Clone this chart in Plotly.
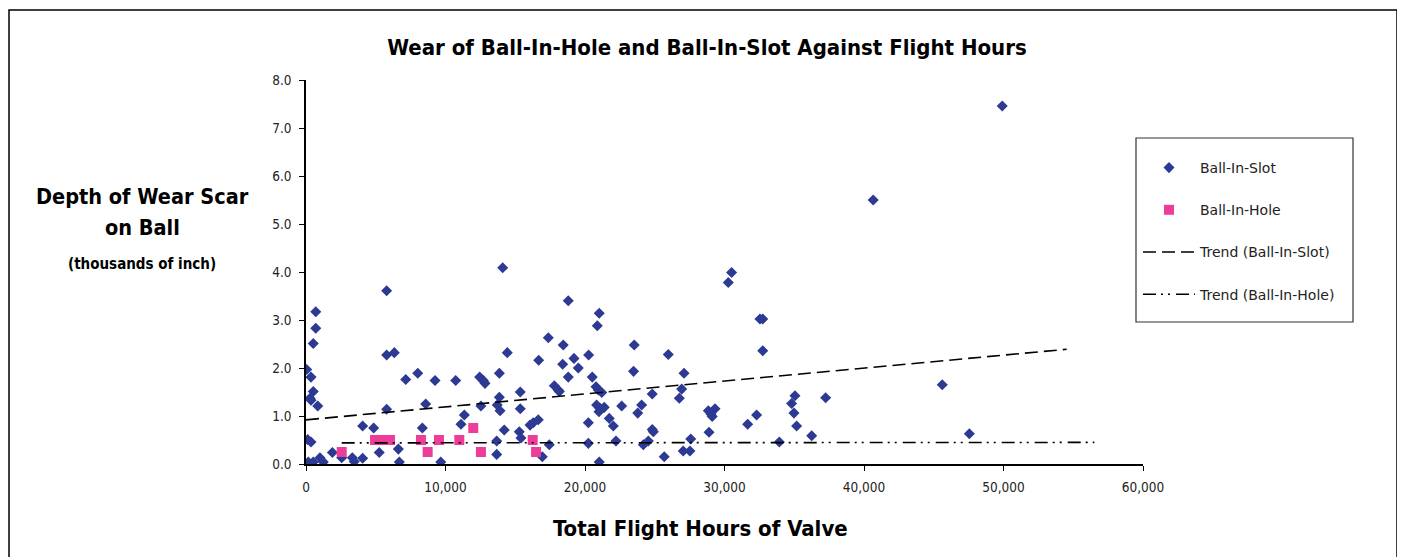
import plotly.graph_objects as go

# ---------------- data ----------------
slot_hours = [50, 360, 520, 290, 360, 840, 700, 700, 520, 5780, 5780, 6330, 7150, 8010, 9250,
              10730, 5780, 8580, 120, 360, 4060, 4850, 8340, 11110, 11350, 1890, 1000, 1240,
              160, 520, 2560, 3320, 3460, 4060, 5250, 6620, 6690, 9660,
              18800, 21020, 20880, 17370, 18440, 23530, 14430, 16680, 18400, 19210, 20260,
              19520, 23480, 12450, 12710, 12830, 13860, 18800, 20520, 17800, 18080, 18160,
              20790, 20950, 21200, 15360, 13860, 12540, 13710, 13910, 15360, 20830, 21070,
              21380, 21000, 22630, 24060, 23780, 21740, 22030, 16060, 16290, 16650, 14210,
              15290, 15410, 20240, 13670, 17440, 20240, 22220, 13670, 16940, 21020, 14100,
              32540, 32740, 32740, 25970, 27100, 26930, 26760, 24820, 28840, 29320, 29120,
              29030, 28890, 32300, 31660, 34810, 35050, 34980, 35170, 36250, 24820, 24900,
              24540, 24180, 25680, 27040, 27520, 27580, 33930, 37250, 45610, 47550, 40660,
              49910, 30510, 30270]
slot_depth = [1.97, 1.81, 1.51, 1.37, 1.33, 1.21, 3.17, 2.83, 2.51, 3.61, 2.27, 2.32, 1.76, 1.89, 1.74,
              1.74, 1.14, 1.25, 0.51, 0.46, 0.79, 0.75, 0.75, 0.83, 1.02, 0.24, 0.13, 0.04,
              0.04, 0.04, 0.13, 0.13, 0.05, 0.12, 0.24, 0.31, 0.04, 0.04,
              3.40, 3.14, 2.88, 2.63, 2.48, 2.48, 2.32, 2.16, 2.08, 2.20, 2.27,
              2.00, 1.93, 1.81, 1.74, 1.68, 1.89, 1.81, 1.81, 1.63, 1.54, 1.51,
              1.61, 1.54, 1.49, 1.50, 1.39, 1.21, 1.23, 1.11, 1.15, 1.23, 1.16,
              1.18, 1.09, 1.21, 1.23, 1.06, 0.95, 0.79, 0.81, 0.86, 0.92, 0.71,
              0.67, 0.54, 0.86, 0.48, 0.40, 0.43, 0.48, 0.20, 0.15, 0.04, 4.09,
              3.02, 3.02, 2.36, 2.28, 1.89, 1.56, 1.37, 1.46, 1.11, 1.15, 0.99,
              1.04, 0.66, 1.02, 0.83, 1.26, 1.42, 1.06, 0.79, 0.59, 0.72, 0.67,
              0.48, 0.40, 0.15, 0.27, 0.27, 0.52, 0.46, 1.38, 1.65, 0.63, 5.50,
              7.46, 3.99, 3.78]

hole_hours = [2560, 4950, 5540, 6020, 8240, 8720, 9530, 10990, 11990, 12540, 16250, 16490]
hole_depth = [0.25, 0.50, 0.50, 0.50, 0.50, 0.25, 0.50, 0.50, 0.75, 0.25, 0.50, 0.25]

slot_trend_hours = [0, 54530]
slot_trend_depth = [0.92, 2.39]
hole_trend_hours = [2560, 56510]
hole_trend_depth = [0.44, 0.45]

x_tick_vals = [0, 10000, 20000, 30000, 40000, 50000, 60000]
x_tick_text = ["0", "10,000", "20,000", "30,000", "40,000", "50,000", "60,000"]
y_tick_vals = [0, 1, 2, 3, 4, 5, 6, 7, 8]
y_tick_text = ["0.0", "1.0", "2.0", "3.0", "4.0", "5.0", "6.0", "7.0", "8.0"]

# ---------------- styling ----------------
BLUE = "#2D3A93"
PINK = "#EE3D98"
FONT_B = "DejaVu Sans Condensed, Liberation Sans Narrow, sans-serif"
FONT_R = "DejaVu Sans, Liberation Sans, sans-serif"
TXT = "#222222"

# The page body has an 8px margin, so the figure is drawn 8px in from the window corner.
OFF = 8
PAGE_W, PAGE_H = 1405, 557
W, H = PAGE_W - OFF, PAGE_H - OFF
# plot area geometry in page pixels
L, R, T, B = 306, 1143, 80, 464


def px(xp):
    return (xp - L) / (R - L)


def py(yp):
    return (B - yp) / (B - T)


fig = go.Figure()

fig.add_trace(go.Scatter(
    x=slot_hours, y=slot_depth, mode="markers", name="Ball-In-Slot",
    legendgroup="a",
    marker=dict(symbol="diamond", size=8.5, color=BLUE, line=dict(width=0)),
))
fig.add_trace(go.Scatter(
    x=hole_hours, y=hole_depth, mode="markers", name="Ball-In-Hole",
    legendgroup="b",
    marker=dict(symbol="square", size=10, color=PINK, line=dict(width=0)),
))
fig.add_trace(go.Scatter(
    x=slot_trend_hours, y=slot_trend_depth, mode="lines", name="Trend (Ball-In-Slot)",
    legendgroup="c",
    line=dict(color="black", width=1.6, dash="13px,6px"),
))
fig.add_trace(go.Scatter(
    x=hole_trend_hours, y=hole_trend_depth, mode="lines", name="Trend (Ball-In-Hole)",
    legendgroup="d",
    line=dict(color="black", width=1.6, dash="13px,5px,2px,5px,2px,6px"),
))

fig.update_layout(
    width=W, height=H,
    margin=dict(l=L - OFF, r=W - (R - OFF), t=T - OFF, b=H - (B - OFF), pad=0),
    paper_bgcolor="white", plot_bgcolor="white",
    font=dict(family=FONT_R, color=TXT, size=13),
    title=dict(
        text="<b>Wear of Ball-In-Hole and Ball-In-Slot Against Flight Hours</b>",
        x=(707 - OFF) / W, y=1 - (47 - OFF) / H, xanchor="center", yanchor="middle",
        xref="container", yref="container",
        font=dict(family=FONT_B, size=22, color="black"),
    ),
    showlegend=True,
    legend=dict(
        x=px(1138), y=py(152), xanchor="left", yanchor="top",
        bgcolor="rgba(0,0,0,0)", borderwidth=0,
        font=dict(family=FONT_R, size=14, color=TXT),
        tracegroupgap=21, traceorder="grouped", itemwidth=52,
    ),
    xaxis=dict(
        range=[0, 60000], tickvals=x_tick_vals, ticktext=x_tick_text,
        showgrid=False, zeroline=False, showline=True, linecolor="black", linewidth=1.5,
        ticks="outside", ticklen=5, tickwidth=1.3, tickcolor="black",
        ticklabelstandoff=5,
        tickfont=dict(family=FONT_B, size=13.5, color=TXT),
    ),
    yaxis=dict(
        range=[0, 8], tickvals=y_tick_vals, ticktext=y_tick_text,
        showgrid=False, zeroline=False, showline=True, linecolor="black", linewidth=1.5,
        ticks="outside", ticklen=5, tickwidth=1.3, tickcolor="black",
        ticklabelstandoff=5,
        tickfont=dict(family=FONT_B, size=13.5, color=TXT),
    ),
    shapes=[
        # legend frame
        dict(type="rect", xref="paper", yref="paper",
             x0=px(1136), x1=px(1353), y0=py(322), y1=py(138),
             line=dict(color="#333333", width=1.2), fillcolor="rgba(0,0,0,0)", layer="below"),
        # outer chart frame (open at the bottom of the picture)
        dict(type="path", xref="paper", yref="paper",
             path=f"M {px(9)},{py(620)} L {px(9)},{py(10)} L {px(1397)},{py(10)} L {px(1397)},{py(620)}",
             line=dict(color="black", width=1.5)),
    ],
    annotations=[
        dict(text="<b>Total Flight Hours of Valve</b>", x=px(700), y=py(528), xref="paper", yref="paper",
             showarrow=False, xanchor="center", yanchor="middle",
             font=dict(family=FONT_B, size=22, color="black")),
        dict(text="<b>Depth of Wear Scar</b>", x=px(142), y=py(196), xref="paper", yref="paper",
             showarrow=False, xanchor="center", yanchor="middle",
             font=dict(family=FONT_B, size=21.5, color="black")),
        dict(text="<b>on Ball</b>", x=px(142), y=py(227), xref="paper", yref="paper",
             showarrow=False, xanchor="center", yanchor="middle",
             font=dict(family=FONT_B, size=21.5, color="black")),
        dict(text="<b>(thousands of inch)</b>", x=px(142), y=py(264), xref="paper", yref="paper",
             showarrow=False, xanchor="center", yanchor="middle",
             font=dict(family=FONT_B, size=15, color="black")),
    ],
)

fig.write_html("out.html")
